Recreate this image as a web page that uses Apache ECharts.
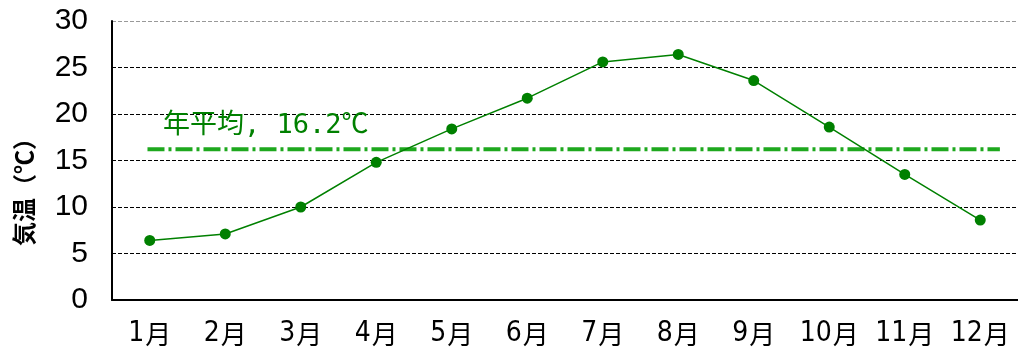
<!DOCTYPE html>
<html><head><meta charset="utf-8">
<script src="https://cdn.jsdelivr.net/npm/echarts@6/dist/echarts.min.js"></script>
<style>html,body{margin:0;padding:0;background:#fff}#c{width:1018px;height:357px}</style>
</head><body><div id="c"></div>
<script>
const months = ['1月','2月','3月','4月','5月','6月','7月','8月','9月','10月','11月','12月'];
const temps = [6.4, 7.1, 10.0, 14.8, 18.4, 21.7, 25.6, 26.4, 23.6, 18.6, 13.5, 8.6];
const annualAvg = 16.2;
const avgSpan = [0.47, 11.76];
const yTicks = [0, 5, 10, 15, 20, 25, 30];
const yName = '気温（℃）';

const chart = echarts.init(document.getElementById('c'), null, {renderer:'canvas'});
chart.setOption({
  animation: false,
  backgroundColor: '#fff',
  title: {
    text: '年平均, ' + annualAvg.toFixed(1) + '℃',
    left: 158, top: 107,
    textStyle: {color: '#008000', fontSize: 27, fontWeight: 'normal', fontFamily: 'DejaVu Sans Mono, Noto Sans CJK JP'}
  },
  graphic: [{
    type: 'text',
    style: {text: yName, fill: '#000', font: 'bold 24px "Noto Sans CJK JP"'},
    rotation: Math.PI / 2,
    x: 12, y: 246
  }],
  grid: {left: 112, top: 21, width: 912, height: 279, containLabel: false},
  xAxis: [{
    type: 'category', data: months, boundaryGap: true,
    axisLine: {lineStyle: {color: '#000', width: 2}},
    axisTick: {inside: true, length: 8, interval: 0, lineStyle: {color: '#000', width: 1.5}},
    axisLabel: {
      margin: 20, interval: 0,
      formatter: function (v) { return '{n|' + v.replace('月', '') + '}{m|月}'; },
      rich: {
        n: {color: '#000', fontSize: 28, fontFamily: 'Liberation Sans Narrow, DejaVu Sans Condensed, Liberation Sans', padding: [0, 1, 0, 0]},
        m: {color: '#000', fontSize: 26, fontFamily: 'Noto Sans CJK JP'}
      }
    },
    splitLine: {show: false}
  }, {
    type: 'value', min: 0, max: 12, show: false
  }],
  yAxis: {
    type: 'value', min: yTicks[0], max: yTicks[yTicks.length-1], interval: 5,
    axisLine: {show: true, lineStyle: {color: '#000', width: 2}},
    axisTick: {show: false},
    axisLabel: {color: '#000', fontSize: 30, margin: 24, fontFamily: 'Liberation Sans Narrow, Liberation Sans, sans-serif'},
    splitLine: {show: true, lineStyle: {color: ['#000','#000','#000','#000','#000','#000','#999'], type: [4, 2], width: 1}}
  },
  series: [{
    type: 'line', data: temps, xAxisIndex: 0,
    symbol: 'circle', symbolSize: 11,
    itemStyle: {color: '#008000'},
    lineStyle: {color: '#008000', width: 1.5},
    z: 3
  }, {
    type: 'line', xAxisIndex: 1,
    data: [[avgSpan[0], annualAvg], [avgSpan[1], annualAvg]],
    symbol: 'none',
    lineStyle: {color: '#1ea81e', width: 4, type: [17, 4, 3, 4]},
    z: 2
  }]
});
</script></body></html>
